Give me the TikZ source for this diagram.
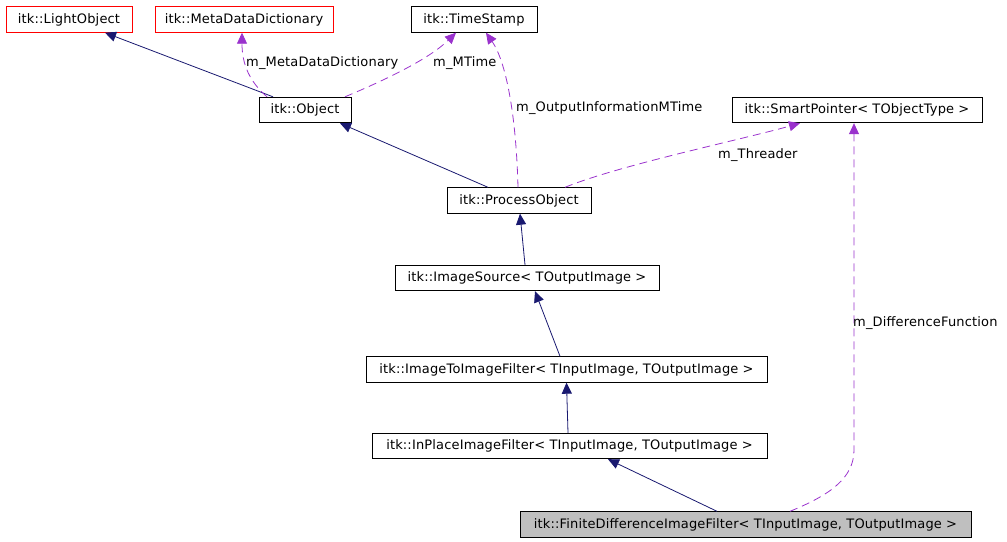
\documentclass[tikz,border=0pt]{standalone}
\usepackage{fontspec}
\setmainfont{DejaVu Sans}[LetterSpace=1.2]
\usetikzlibrary{arrows.meta}
\definecolor{navy}{HTML}{191970}
\definecolor{dep}{HTML}{9A32CD}
\definecolor{boxred}{HTML}{FF0000}
\definecolor{fingray}{HTML}{BFBFBF}
\tikzset{
  cls/.style={draw=black, line width=0.9pt, inner sep=0pt, minimum height=25.5pt, font=\fontsize{13}{15}\selectfont, text=black},
  redcls/.style={cls, draw=boxred},
  inh/.style={draw=navy, line width=0.8pt, -{Triangle[length=11pt,width=10pt]}, navy},
  depe/.style={draw=dep, line width=0.8pt, dash pattern=on 8pt off 5pt, -{Triangle[length=11pt,width=10pt]}, dep},
  lbl/.style={anchor=west, inner sep=0pt, font=\fontsize{13}{15}\selectfont, text=black}
}
\begin{document}
\begin{tikzpicture}[x=1pt,y=-1pt]
\useasboundingbox (0,0) rectangle (1007,541);
\node[redcls, minimum width=126pt] (light) at (69,19.5) {itk::LightObject};
\node[redcls, minimum width=178pt] (mdd) at (244,19.5) {itk::MetaDataDictionary};
\node[cls, minimum width=126pt] (ts) at (474,19.5) {itk::TimeStamp};
\node[cls, minimum width=92pt] (obj) at (305,110) {itk::Object};
\node[cls, minimum width=250pt] (sp) at (857,110) {itk::SmartPointer< TObjectType >};
\node[cls, minimum width=144pt] (po) at (519,200.5) {itk::ProcessObject};
\node[cls, minimum width=264pt] (src) at (527,278) {itk::ImageSource< TOutputImage >};
\node[cls, minimum width=401pt] (i2i) at (566.5,369.5) {itk::ImageToImageFilter< TInputImage, TOutputImage >};
\node[cls, minimum width=395pt] (inp) at (569.5,446) {itk::InPlaceImageFilter< TInputImage, TOutputImage >};
\node[cls, fill=fingray, minimum width=451pt] (fin) at (745.5,524.5) {itk::FiniteDifferenceImageFilter< TInputImage, TOutputImage >};

% inheritance
\draw[inh] ([xshift=-32pt]obj.north) -- ([xshift=36pt]light.south);
\draw[inh] ([xshift=-31pt]po.north) -- ([xshift=35pt]obj.south);
\draw[inh] ([xshift=-2pt]src.north) -- ([xshift=1pt]po.south);
\draw[inh] ([xshift=-6.5pt]i2i.north) -- ([xshift=8pt]src.south);
\draw[inh] ([xshift=-1.5pt]inp.north) -- (i2i.south);
\draw[inh] ([xshift=-28.5pt]fin.north) -- ([xshift=38.5pt]inp.south);

% dependencies
\draw[depe] ([xshift=-38pt]obj.north) .. controls (250,82) and (242,65) .. ([xshift=-2pt]mdd.south);
\node[lbl] (lmdd) at (246,63) {m\_MetaDataDictionary};
\draw[depe] ([xshift=40pt]obj.north) .. controls (390,78) and (430,58) .. ([xshift=-18pt]ts.south);
\node[lbl] (lmt) at (433,63) {m\_MTime};
\draw[depe] ([xshift=-1pt]po.north) .. controls (516,110) and (505,60) .. ([xshift=12pt]ts.south);
\node[lbl] (loi) at (516,108) {m\_OutputInformationMTime};
\draw[depe] ([xshift=46pt]po.north) .. controls (620,165) and (740,140) .. ([xshift=-57pt]sp.south);
\node[lbl] (lth) at (718,155) {m\_Threader};
\draw[depe] ([xshift=44.5pt]fin.north) .. controls (830,495) and (854,478) .. (854,450) -- ([xshift=-3pt]sp.south);
\node[lbl] (ldf) at (853,323) {m\_DifferenceFunction};
\end{tikzpicture}
\end{document}
